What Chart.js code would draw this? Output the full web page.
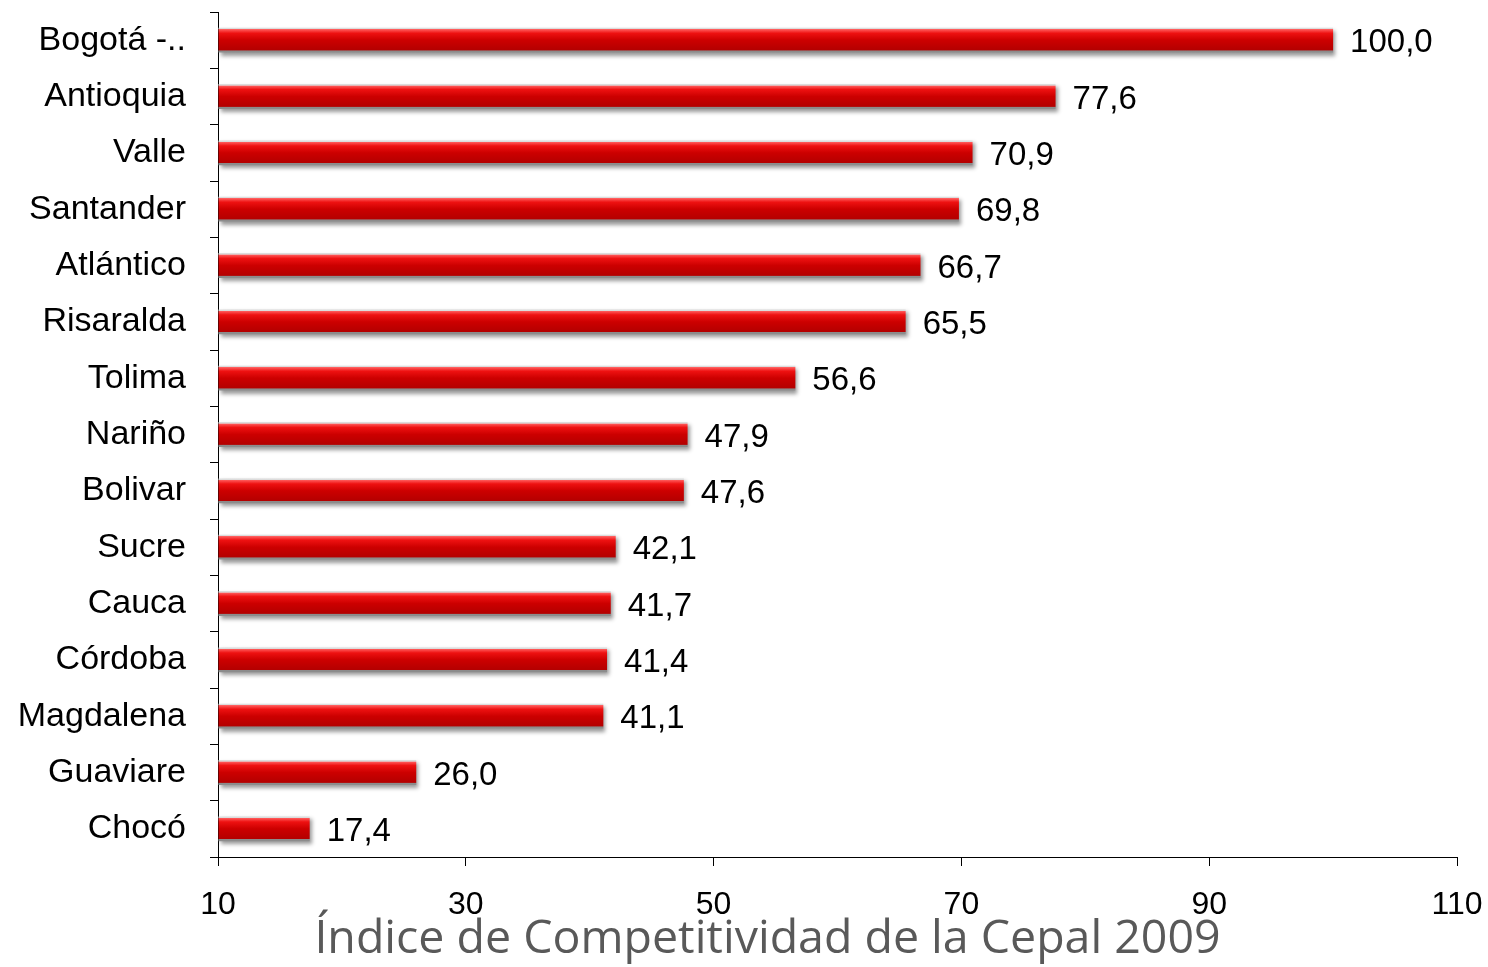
<!DOCTYPE html>
<html><head><meta charset="utf-8">
<script src="https://cdn.jsdelivr.net/npm/chart.js@4.4.1/dist/chart.umd.min.js"></script>
<style>html,body{margin:0;padding:0;background:#fff;overflow:hidden}#wrap{width:1488px;height:967px;position:relative}</style>
</head><body><div id="wrap"><canvas id="c" width="1488" height="967"></canvas></div>
<script>
const categories = ['Bogotá -..', 'Antioquia', 'Valle', 'Santander', 'Atlántico', 'Risaralda', 'Tolima', 'Nariño', 'Bolivar', 'Sucre', 'Cauca', 'Córdoba', 'Magdalena', 'Guaviare', 'Chocó'];
const values = [100.0, 77.6, 70.9, 69.8, 66.7, 65.5, 56.6, 47.9, 47.6, 42.1, 41.7, 41.4, 41.1, 26.0, 17.4];
const xTicks = [10, 30, 50, 70, 90, 110];
const titleText = 'Índice de Competitividad de la Cepal 2009';

const BAR_PCT = 0.44;
const fmt = v => v.toFixed(1).replace('.', ',');

function barGradient(ctx) {
  const chart = ctx.chart;
  const ys = chart.scales && chart.scales.y;
  if (!ys || ctx.dataIndex === undefined || !chart.chartArea) return '#c80000';
  const c = ys.getPixelForValue(ctx.dataIndex);
  const h = (ys.height / categories.length) * BAR_PCT / 2;
  const g = chart.ctx.createLinearGradient(0, c - h, 0, c + h);
  g.addColorStop(0.00, '#dcdcdc');
  g.addColorStop(0.05, '#dcdcdc');
  g.addColorStop(0.07, '#ff5a5a');
  g.addColorStop(0.22, '#ee1111');
  g.addColorStop(0.50, '#cc0000');
  g.addColorStop(0.90, '#b40000');
  g.addColorStop(0.93, '#8c8c8c');
  g.addColorStop(1.00, '#8c8c8c');
  return g;
}

const shadowPlugin = {
  id: 'barShadow',
  beforeDatasetsDraw(chart) {
    const c = chart.ctx; c.save();
    c.shadowColor = 'rgba(0,0,0,0.40)'; c.shadowOffsetX = 2; c.shadowOffsetY = 3; c.shadowBlur = 4;
  },
  afterDatasetsDraw(chart) { chart.ctx.restore(); }
};
const labelPlugin = {
  id: 'valueLabels',
  afterDatasetsDraw(chart) {
    const c = chart.ctx; const meta = chart.getDatasetMeta(0);
    c.save();
    c.font = '33px "Liberation Sans", Arial, sans-serif';
    c.fillStyle = '#000'; c.textBaseline = 'middle'; c.textAlign = 'left';
    meta.data.forEach((el, i) => c.fillText(fmt(values[i]), el.x + 17, el.y + 3));
    c.restore();
  }
};
const titleShift = {
  id: 'titleShift',
  afterLayout(chart) { if (chart.titleBlock) chart.titleBlock.left += 78; }
};

new Chart(document.getElementById('c'), {
  type: 'bar',
  data: { labels: categories, datasets: [{ data: values, base: 10, backgroundColor: barGradient, borderWidth: 0, barPercentage: BAR_PCT, categoryPercentage: 1 }] },
  options: {
    indexAxis: 'y', responsive: false, animation: false, devicePixelRatio: 1,
    layout: { padding: { top: 12, right: 31, left: 0, bottom: 0 } },
    plugins: {
      legend: { display: false }, tooltip: { enabled: false },
      title: { display: true, position: 'bottom', text: titleText, color: '#595959',
        font: { family: '"Open Sans"', size: 46.5, weight: 'normal', lineHeight: 1 }, padding: { top: -9, bottom: 4.5 } }
    },
    scales: {
      x: { type: 'linear', min: 10, max: 110,
        afterBuildTicks: s => { s.ticks = xTicks.map(v => ({ value: v })); },
        afterFit: s => { s.height = 68; s.paddingLeft = 0; s.paddingRight = 0; },
        grid: { drawOnChartArea: false, drawTicks: true, tickLength: 9, color: '#000' },
        border: { color: '#000', width: 1 },
        ticks: { color: '#000', padding: 20, font: { family: '"Liberation Sans"', size: 32 }, maxRotation: 0 } },
      y: { type: 'category',
        afterFit: s => { s.width = 218; s.paddingTop = 0; s.paddingBottom = 0; },
        grid: { drawOnChartArea: false, drawTicks: true, tickLength: 8, offset: true, color: '#000' },
        border: { color: '#000', width: 1 },
        ticks: { color: '#000', padding: 24, font: { family: '"Liberation Sans"', size: 34 } } }
    }
  },
  plugins: [shadowPlugin, labelPlugin, titleShift]
});
</script></body></html>
